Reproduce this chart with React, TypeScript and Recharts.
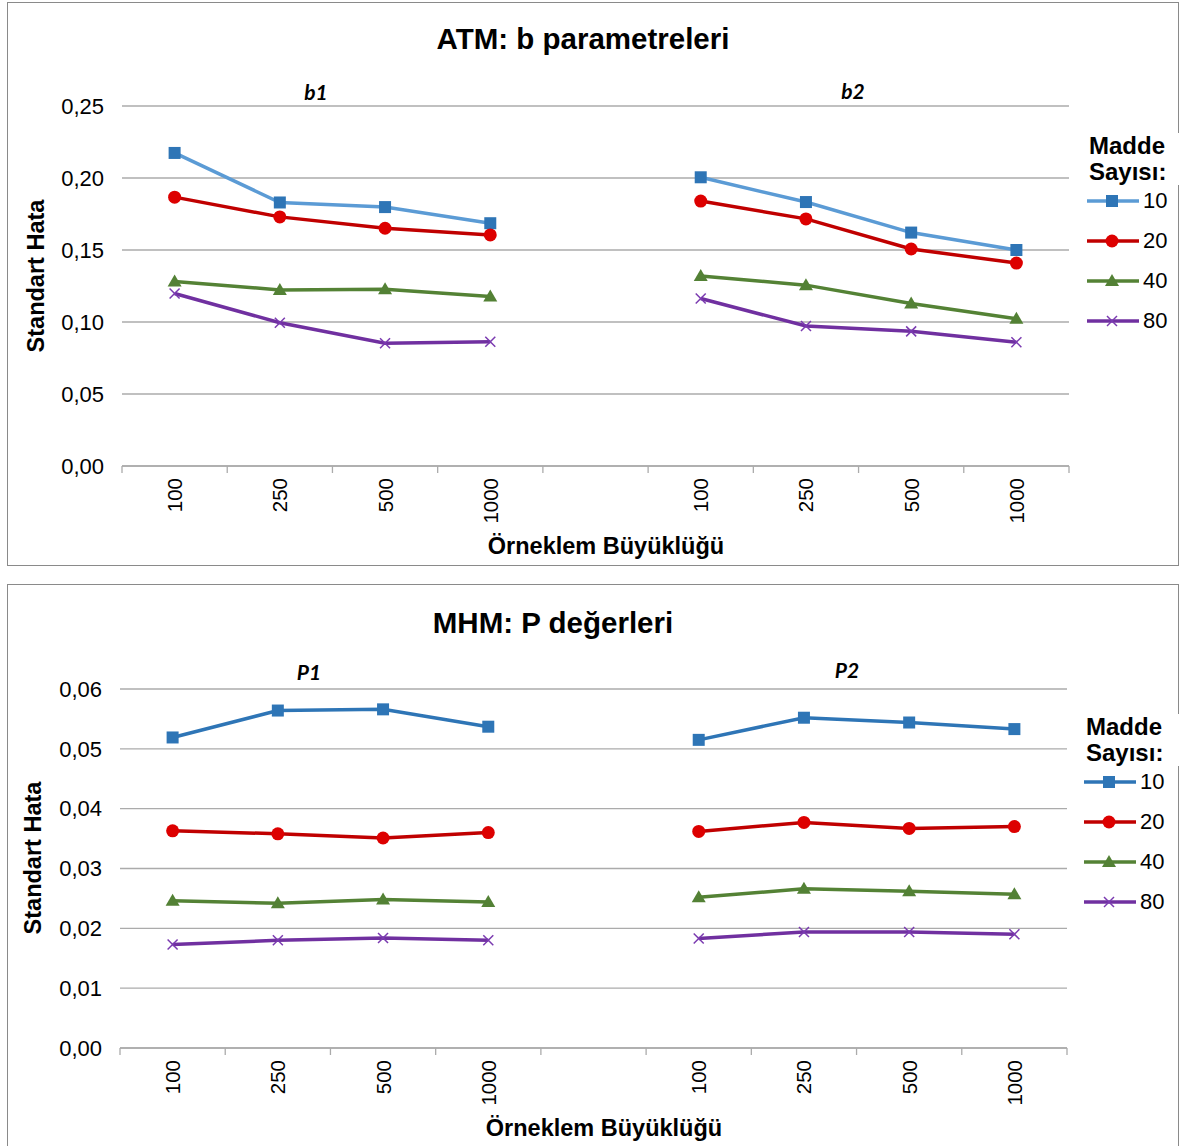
import React from "react";
import {
  LineChart,
  Line,
  XAxis,
  YAxis,
  CartesianGrid,
  Legend,
} from "recharts";

// sample sizes on the x axis, repeated for each parameter group
const SAMPLE_SIZES = ["100", "250", "500", "1000"];
const ITEM_COUNTS = ["10", "20", "40", "80"];

// ATM: b parameters, first four = b1, last four = b2
const ATM_GROUPS = ["b1", "b2"];
const ATM_10 = [0.2174, 0.183, 0.1798, 0.1686, 0.2005, 0.1833, 0.1621, 0.15];
const ATM_20 = [0.1867, 0.173, 0.1651, 0.1605, 0.184, 0.1716, 0.1507, 0.1409];
const ATM_40 = [0.1282, 0.1223, 0.1228, 0.1177, 0.1319, 0.1256, 0.1128, 0.1023];
const ATM_80 = [0.1198, 0.0995, 0.0853, 0.0863, 0.1163, 0.0972, 0.0935, 0.086];
const ATM_Y_TICKS = [0, 0.05, 0.1, 0.15, 0.2, 0.25];

// MHM: P values, first four = P1, last four = P2
const MHM_GROUPS = ["P1", "P2"];
const MHM_10 = [0.0519, 0.0564, 0.0566, 0.0537, 0.0515, 0.0552, 0.0544, 0.0533];
const MHM_20 = [0.0363, 0.0358, 0.0351, 0.036, 0.0362, 0.0377, 0.0367, 0.037];
const MHM_40 = [0.0246, 0.0242, 0.0248, 0.0244, 0.0252, 0.0266, 0.0262, 0.0257];
const MHM_80 = [0.0173, 0.018, 0.0184, 0.018, 0.0183, 0.0194, 0.0194, 0.019];
const MHM_Y_TICKS = [0, 0.01, 0.02, 0.03, 0.04, 0.05, 0.06];

const FONT = "'Liberation Sans', Arial, sans-serif";
const GRID = "#ABABAB";

type Shape = "square" | "circle" | "triangle" | "cross";

const SHAPES: Shape[] = ["square", "circle", "triangle", "cross"];
const MARKER_COLORS = ["#2E75B6", "#DD0000", "#538135", "#7A3AB0"];
const LINE_COLORS_ATM = ["#5B9BD5", "#C00000", "#548235", "#7030A0"];
const LINE_COLORS_MHM = ["#2E75B6", "#C00000", "#548235", "#7030A0"];

function Marker({ shape, cx, cy, color }: { shape: Shape; cx: number; cy: number; color: string }) {
  if (shape === "square") {
    return <rect x={cx - 6} y={cy - 6} width={12} height={12} fill={color} />;
  }
  if (shape === "circle") {
    return <circle cx={cx} cy={cy} r={6.5} fill={color} />;
  }
  if (shape === "triangle") {
    return <polygon points={`${cx},${cy - 7} ${cx + 7},${cy + 5} ${cx - 7},${cy + 5}`} fill={color} />;
  }
  return (
    <g stroke={color} strokeWidth={1.5}>
      <line x1={cx - 5} y1={cy - 5} x2={cx + 5} y2={cy + 5} />
      <line x1={cx - 5} y1={cy + 5} x2={cx + 5} y2={cy - 5} />
    </g>
  );
}

// 9 slots: 4 sample sizes, an empty gap, 4 sample sizes
function buildRows(series: number[][]) {
  const rows: Record<string, number | null | string>[] = [];
  let slot = 0;
  for (let g = 0; g < 2; g++) {
    SAMPLE_SIZES.forEach((size, i) => {
      const row: Record<string, number | null | string> = { x: slot + 0.5, label: size };
      series.forEach((vals, s) => {
        row["s" + ITEM_COUNTS[s]] = vals[g * 4 + i];
      });
      rows.push(row);
      slot++;
    });
    if (g === 0) {
      const gap: Record<string, number | null | string> = { x: slot + 0.5, label: "" };
      ITEM_COUNTS.forEach((c) => (gap["s" + c] = null));
      rows.push(gap);
      slot++;
    }
  }
  return rows;
}

const X_TICKS = Array.from({ length: 19 }, (_, i) => i / 2);

type PanelProps = {
  top: number;
  title: string;
  titleX: number;
  groups: string[];
  groupPos: { x: number; y: number }[];
  series: number[][];
  lineColors: string[];
  yTicks: number[];
  margin: { top: number; right: number; bottom: number; left: number };
  yLabel: { x: number; y: number };
  xLabel: { x: number; y: number };
  legendPos: { left: number; top: number };
  boxTop: number;
  boxHeight: number;
};

function Panel(p: PanelProps) {
  const rows = buildRows(p.series);
  const labelAt = (v: number) => {
    const row = rows.find((r) => r.x === v);
    return row ? (row.label as string) : "";
  };

  const XTick = (props: any) => {
    const { x, y, payload } = props;
    const v = payload.value as number;
    if (Number.isInteger(v)) {
      return <line x1={x} y1={y} x2={x} y2={y + 7} stroke={GRID} strokeWidth={1.3} />;
    }
    const ty = y + 12;
    return (
      <text
        x={x}
        y={ty}
        transform={`rotate(-90, ${x}, ${ty})`}
        textAnchor="end"
        dominantBaseline="central"
        fontSize={20.5}
        fill="#000"
        fontFamily={FONT}
      >
        {labelAt(v)}
      </text>
    );
  };

  const renderLegend = (props: any) => {
    const payload = props.payload || [];
    return (
      <div style={{ fontFamily: FONT, color: "#000" }}>
        <div
          style={{
            fontWeight: "bold",
            fontSize: 24,
            lineHeight: "26px",
            background: "#fff",
            paddingLeft: 3,
            width: 96,
          }}
        >
          Madde
          <br />
          Sayısı:
        </div>
        {payload.map((entry: any, i: number) => (
          <div key={i} style={{ display: "flex", alignItems: "center", height: 40, marginTop: i === 0 ? -4 : 0 }}>
            <svg width={54} height={16}>
              <line x1={1} y1={8} x2={53} y2={8} stroke={p.lineColors[i]} strokeWidth={3.5} />
              <Marker shape={SHAPES[i]} cx={26} cy={8} color={MARKER_COLORS[i]} />
            </svg>
            <span style={{ fontSize: 22, marginLeft: 3 }}>{entry.value}</span>
          </div>
        ))}
      </div>
    );
  };

  return (
    <div style={{ position: "absolute", left: 0, top: p.top, width: 1184, height: 566 }}>
      <div
        style={{
          position: "absolute",
          left: 7,
          top: p.boxTop,
          width: 1170,
          height: p.boxHeight,
          border: "1px solid #8A8A8A",
        }}
      />
      <div style={{ position: "absolute", left: 0, top: 0 }}>
        <LineChart width={1184} height={566} data={rows} margin={p.margin} style={{ fontFamily: FONT }}>
          <CartesianGrid vertical={false} stroke={GRID} strokeWidth={1.3} />
          <XAxis
            dataKey="x"
            type="number"
            domain={[0, 9]}
            ticks={X_TICKS}
            interval={0}
            tick={<XTick />}
            tickLine={false}
            tickSize={0}
            tickMargin={0}
            height={60}
            stroke={GRID}
            strokeWidth={1.3}
          />
          <YAxis
            type="number"
            domain={[p.yTicks[0], p.yTicks[p.yTicks.length - 1]]}
            ticks={p.yTicks}
            interval={0}
            axisLine={false}
            tickLine={false}
            tickSize={0}
            tickMargin={18}
            width={60}
            tick={{ fontSize: 22, fill: "#000", fontFamily: FONT }}
            tickFormatter={(v: number) => v.toFixed(2).replace(".", ",")}
          />
          <Legend
            layout="vertical"
            align="center"
            verticalAlign="middle"
            wrapperStyle={{ left: p.legendPos.left, top: p.legendPos.top, width: 100 }}
            content={renderLegend}
          />
          {ITEM_COUNTS.map((c, i) => (
            <Line
              key={c}
              dataKey={"s" + c}
              name={c}
              stroke={p.lineColors[i]}
              strokeWidth={3.5}
              isAnimationActive={false}
              connectNulls={false}
              dot={(d: any) =>
                d.value == null || d.cx == null ? (
                  <g key={d.key} />
                ) : (
                  <Marker key={d.key} shape={SHAPES[i]} cx={d.cx} cy={d.cy} color={MARKER_COLORS[i]} />
                )
              }
              activeDot={false}
            />
          ))}
        </LineChart>
      </div>
      <div
        style={{
          position: "absolute",
          left: p.titleX - 300,
          width: 600,
          top: 22,
          textAlign: "center",
          fontFamily: FONT,
          fontWeight: "bold",
          fontSize: 29.5,
          lineHeight: "34px",
        }}
      >
        {p.title}
      </div>
      {p.groups.map((g, i) => (
        <div
          key={g}
          style={{
            position: "absolute",
            left: p.groupPos[i].x - 50,
            width: 100,
            top: p.groupPos[i].y - 13,
            textAlign: "center",
            fontFamily: "Lato, 'Open Sans', sans-serif",
            fontWeight: "bold",
            fontStyle: "italic",
            fontSize: 21,
            lineHeight: "26px",
          }}
        >
          {g}
        </div>
      ))}
      <div
        style={{
          position: "absolute",
          left: p.yLabel.x - 100,
          top: p.yLabel.y - 14,
          width: 200,
          textAlign: "center",
          transform: "rotate(-90deg)",
          fontFamily: FONT,
          fontWeight: "bold",
          fontSize: 23.5,
          lineHeight: "28px",
        }}
      >
        Standart Hata
      </div>
      <div
        style={{
          position: "absolute",
          left: p.xLabel.x - 200,
          top: p.xLabel.y - 14,
          width: 400,
          textAlign: "center",
          fontFamily: FONT,
          fontWeight: "bold",
          fontSize: 23.5,
          lineHeight: "28px",
        }}
      >
        Örneklem Büyüklüğü
      </div>
    </div>
  );
}

export default function App() {
  return (
    <div style={{ position: "absolute", left: 0, top: 0, width: 1184, height: 1146, background: "#fff" }}>
      <Panel
        top={0}
        title="ATM: b parametreleri"
        titleX={583}
        groups={ATM_GROUPS}
        groupPos={[
          { x: 316, y: 92 },
          { x: 853, y: 91 },
        ]}
        series={[ATM_10, ATM_20, ATM_40, ATM_80]}
        lineColors={LINE_COLORS_ATM}
        yTicks={ATM_Y_TICKS}
        margin={{ top: 106, right: 115, bottom: 40, left: 62 }}
        yLabel={{ x: 36, y: 276 }}
        xLabel={{ x: 606, y: 546 }}
        legendPos={{ left: 1086, top: 133 }}
        boxTop={2}
        boxHeight={562}
      />
      <Panel
        top={584}
        title="MHM: P değerleri"
        titleX={553}
        groups={MHM_GROUPS}
        groupPos={[
          { x: 309, y: 88 },
          { x: 847, y: 86 },
        ]}
        series={[MHM_10, MHM_20, MHM_40, MHM_80]}
        lineColors={LINE_COLORS_MHM}
        yTicks={MHM_Y_TICKS}
        margin={{ top: 105, right: 117, bottom: 42, left: 60 }}
        yLabel={{ x: 33, y: 274 }}
        xLabel={{ x: 604, y: 544 }}
        legendPos={{ left: 1083, top: 130 }}
        boxTop={0}
        boxHeight={570}
      />
    </div>
  );
}
